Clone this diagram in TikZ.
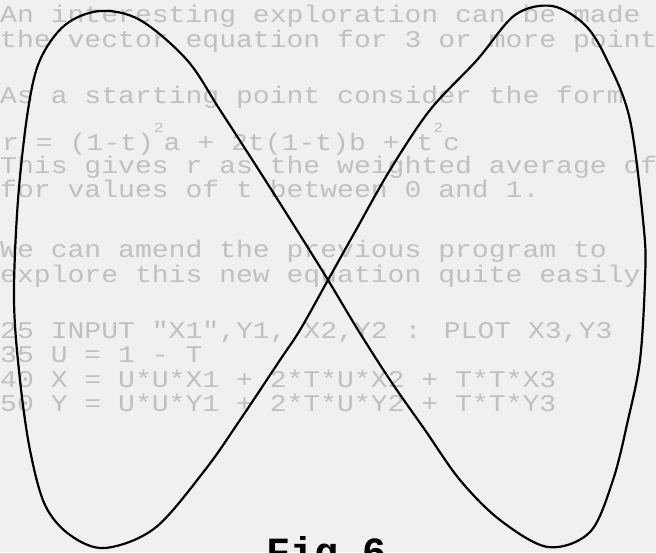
\documentclass[tikz,border=0pt]{standalone}
\usepackage{fontspec}
\newfontfamily\typewriter{Liberation Mono}
\definecolor{paper}{RGB}{240,240,240}
\definecolor{showthrough}{RGB}{192,192,192}
\newcommand{\supertwo}{\raisebox{0.75em}{\fontsize{14}{14}\selectfont 2}}
\tikzset{
  faint/.style={anchor=base west, inner sep=0pt, xscale=1.17, text=showthrough, font=\typewriter\fontsize{24}{24}\selectfont},
  curveline/.style={draw=black, line width=2.2pt, line join=round},
  caption/.style={anchor=base, inner sep=0pt, font=\typewriter\bfseries\fontsize{40}{40}\selectfont}
}
\begin{document}
\begin{tikzpicture}[x=1pt,y=-1pt]
\useasboundingbox (0,0) rectangle (656,552);
\clip (0,0) rectangle (656,552);
\fill[paper] (0,0) rectangle (656,552);
% show-through text
\node[faint] (t1) at (0,22) {An interesting exploration can be made of};
\node[faint] (t2) at (0,47) {the vector equation for 3 or more points};
\node[faint] (t3) at (0,103) {As a starting point consider the form};
\node[faint] (t4) at (2,150) {r = (1-t)\supertwo a + 2t(1-t)b + t\supertwo c};
\node[faint] (t5) at (0,173) {This gives r as the weighted average of};
\node[faint] (t6) at (0,197) {for values of t between 0 and 1.};
\node[faint] (t7) at (0,257) {We can amend the previous program to};
\node[faint] (t8) at (0,282) {explore this new equation quite easily};
\node[faint] (t9) at (0,338) {25 INPUT "X1",Y1, X2,Y2 : PLOT X3,Y3};
\node[faint] (t10) at (0,362) {35 U = 1 - T};
\node[faint] (t11) at (0,387) {40 X = U*U*X1 + 2*T*U*X2 + T*T*X3};
\node[faint] (t12) at (0,411) {50 Y = U*U*Y1 + 2*T*U*Y2 + T*T*Y3};
% the curve
\draw[curveline] plot[smooth cycle, tension=0.55] coordinates {
 (100,11) (140,20) (187,60) (220,110) (262,175) (300,235) (328,280)
 (358,330) (390,380) (425,430) (460,480) (500,520) (548,547)
 (590,532) (613,480) (628,420) (640,360) (645,280) (644,230) (630,120) (607,60) (585,25)
 (552,6) (515,15) (477,60) (430,110) (390,170) (356,230) (328,280)
 (300,330) (280,360) (240,420) (205,470) (155,528) (105,548)
 (70,535) (45,505) (30,450) (20,380) (14,300) (18,200) (28,110) (40,60) (65,25)
};
\node[caption] (fig) at (327,565) {Fig 6};
\end{tikzpicture}
\end{document}
